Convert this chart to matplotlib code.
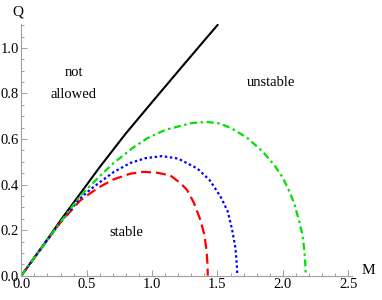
#!/usr/bin/env python3
"""Stability regions in the M-Q plane."""

import matplotlib
matplotlib.use("Agg")
import matplotlib.pyplot as plt
from matplotlib.ticker import MultipleLocator

# extremal bound (black)
bound_m = [0.0, 0.1, 0.2, 0.3, 0.45, 0.6, 0.8, 1.0, 1.2, 1.4, 1.506]
bound_q = [0.0, 0.08, 0.16, 0.243, 0.36, 0.477, 0.625, 0.762, 0.898, 1.033, 1.104]

# red dashed
red_m = [0.0, 0.1, 0.2, 0.3, 0.45, 0.527, 0.6, 0.706, 0.834, 0.936, 1.04, 1.14,
         1.22, 1.268, 1.32, 1.37, 1.40, 1.416, 1.424, 1.426]
red_q = [0.0, 0.079, 0.157, 0.234, 0.33, 0.362, 0.39, 0.423, 0.448, 0.456, 0.452,
         0.44, 0.405, 0.376, 0.32, 0.244, 0.18, 0.113, 0.05, 0.0]

# blue dotted
blue_m = [0.0, 0.1, 0.2, 0.3, 0.45, 0.527, 0.6, 0.706, 0.834, 0.95, 1.077, 1.2,
          1.345, 1.44, 1.524, 1.58, 1.613, 1.638, 1.648, 1.652]
blue_q = [0.0, 0.079, 0.157, 0.235, 0.34, 0.378, 0.41, 0.455, 0.495, 0.516, 0.525,
          0.514, 0.471, 0.42, 0.347, 0.28, 0.2, 0.12, 0.05, 0.0]

# green dot-dashed
green_m = [0.0, 0.1, 0.2, 0.3, 0.45, 0.527, 0.6, 0.706, 0.85, 0.962, 1.1, 1.3,
           1.42, 1.52, 1.61, 1.728, 1.846, 1.933, 2.0, 2.05, 2.086, 2.12, 2.15,
           2.165, 2.172, 2.175]
green_q = [0.0, 0.079, 0.158, 0.236, 0.35, 0.395, 0.437, 0.495, 0.56, 0.603, 0.64,
           0.67, 0.675, 0.668, 0.646, 0.605, 0.545, 0.487, 0.43, 0.37, 0.318,
           0.25, 0.18, 0.11, 0.05, 0.0]

REGIONS = [
    (0.40, 0.893, "not"),
    (0.40, 0.796, "allowed"),
    (1.907, 0.846, "unstable"),
    (0.80, 0.19, "stable"),
]


def main():
    plt.rcParams.update({"font.family": ["Liberation Serif", "DejaVu Serif"],
                         "font.size": 10.5})
    fig = plt.figure(figsize=(3.82, 3.0), dpi=100)
    ax = fig.add_axes([0.0558, 0.081, 0.866, 0.839])

    ax.plot(bound_m, bound_q, color="black", lw=1.5, solid_capstyle="butt")
    ax.plot(red_m, red_q, color="#ff0000", lw=1.6, dashes=(4.5, 2.2))
    ax.plot(blue_m, blue_q, color="#0000ff", lw=1.6, dashes=(1.1, 1.2))
    ax.plot(green_m, green_q, color="#00e000", lw=1.6, dashes=(3.2, 1.6, 1.1, 1.6))

    for m, q, label in REGIONS:
        ax.text(m, q, label, ha="center", va="center", fontsize=10.5)

    ax.set_xlim(0, 2.53)
    ax.set_ylim(0, 1.105)
    ax.xaxis.set_major_locator(MultipleLocator(0.5))
    ax.xaxis.set_minor_locator(MultipleLocator(0.1))
    ax.yaxis.set_major_locator(MultipleLocator(0.2))
    ax.yaxis.set_minor_locator(MultipleLocator(0.05))
    ax.xaxis.set_major_formatter(lambda v, p: f"{v:.1f}")
    ax.yaxis.set_major_formatter(lambda v, p: f"{v:.1f}")

    for side in ("top", "right"):
        ax.spines[side].set_visible(False)
    for side in ("left", "bottom"):
        ax.spines[side].set_color("#a0a0a0")
        ax.spines[side].set_linewidth(0.8)
    ax.tick_params(which="both", direction="in", color="#a0a0a0", width=0.7,
                   labelsize=10.5)
    ax.tick_params(which="major", length=4, pad=1.5)
    ax.tick_params(which="minor", length=2.2)

    fig.text(18 / 382, 1 - 12 / 300, "Q", ha="center", va="center", fontsize=11)
    fig.text(368 / 382, 1 - 271 / 300, "M", ha="center", va="center", fontsize=11)

    fig.savefig("out.png", dpi=100)


if __name__ == "__main__":
    main()
